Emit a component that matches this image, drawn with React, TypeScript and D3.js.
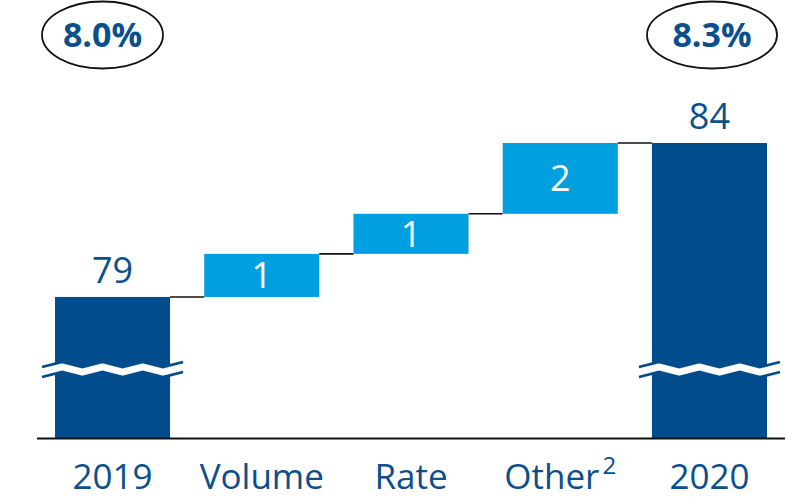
import React from "react";
import * as d3 from "d3";

const categories = ["2019", "Volume", "Rate", "Other", "2020"];
const kinds = ["total", "delta", "delta", "delta", "total"];
const values = [79, 1.4, 1.3, 2.3, 84];
const valueLabels = ["79", "1", "1", "2", "84"];
const superscripts = ["", "", "", "2", ""];
const marginLabels = ["8.0%", "", "", "", "8.3%"];

const W = 799;
const H = 499;
const DARK = "#004C8C";
const LIGHT = "#009FDF";
const TEXT = "#0B4F8C";
const FONT = "'Open Sans', 'Noto Sans', sans-serif";

export default function App() {
  const x = d3
    .scaleBand<string>()
    .domain(categories)
    .range([38, 784])
    .paddingInner(0.229)
    .paddingOuter(0.114);
  const y = d3.scaleLinear().domain([74.42, 84]).range([438, 143]);

  let running = 0;
  const segs = categories.map((c, i) => {
    if (kinds[i] === "total") {
      running = values[i];
      return { c, i, lo: y.domain()[0], hi: values[i], end: values[i] };
    }
    const lo = running;
    running += values[i];
    return { c, i, lo, hi: running, end: running };
  });

  const bw = x.bandwidth();

  const breakPath = (x0: number, x1: number, yc: number) => {
    const period = 38;
    const amp = 2.6;
    const pts: [number, number][] = [];
    const n = Math.round((x1 - x0) / (period / 2));
    for (let k = 0; k <= n; k++) {
      const px = x0 + ((x1 - x0) * k) / n;
      pts.push([px, yc + (k % 2 === 0 ? amp : -amp)]);
    }
    return pts;
  };

  return (
    <svg
      width={W}
      height={H}
      style={{ position: "absolute", left: 0, top: 0, background: "#fff" }}
      fontFamily={FONT}
    >
      {segs.slice(0, -1).map((s, i) => {
        const next = segs[i + 1];
        const level = s.end;
        return (
          <line
            key={"c" + i}
            x1={(x(s.c) as number) + bw}
            x2={x(next.c) as number}
            y1={y(level)}
            y2={y(level)}
            stroke="#111"
            strokeWidth={1.6}
          />
        );
      })}
      {segs.map((s) => (
        <rect
          key={"b" + s.c}
          x={x(s.c)}
          y={y(s.hi)}
          width={bw}
          height={y(s.lo) - y(s.hi)}
          fill={kinds[s.i] === "total" ? DARK : LIGHT}
        />
      ))}
      {segs
        .filter((s) => kinds[s.i] === "total")
        .map((s) => {
          const x0 = (x(s.c) as number) - 13;
          const x1 = (x(s.c) as number) + bw + 13;
          const yc = 369.5;
          const top = breakPath(x0, x1, yc - 5);
          const bot = breakPath(x0, x1, yc + 5);
          const line = d3.line();
          const poly = top.concat(bot.slice().reverse());
          return (
            <g key={"br" + s.c}>
              <path d={line(poly) + "Z"} fill="#fff" />
              <path d={line(top) as string} fill="none" stroke={DARK} strokeWidth={2.6} />
              <path d={line(bot) as string} fill="none" stroke={DARK} strokeWidth={2.6} />
            </g>
          );
        })}
      <line x1={37} x2={785} y1={438.5} y2={438.5} stroke="#111" strokeWidth={1.8} />
      {segs.map((s) => {
        const cx = (x(s.c) as number) + bw / 2;
        if (kinds[s.i] === "total") {
          return (
            <text
              key={"v" + s.c}
              x={cx}
              y={y(s.hi) - 14}
              textAnchor="middle"
              fontSize={36}
              fill={TEXT}
            >
              {valueLabels[s.i]}
            </text>
          );
        }
        return (
          <text
            key={"v" + s.c}
            x={cx}
            y={(y(s.hi) + y(s.lo)) / 2}
            dy="0.36em"
            textAnchor="middle"
            fontSize={36}
            fill="#fff"
          >
            {valueLabels[s.i]}
          </text>
        );
      })}
      {categories.map((c, i) => (
        <text
          key={"l" + c}
          x={(x(c) as number) + bw / 2}
          y={489}
          textAnchor="middle"
          fontSize={35}
          fill={TEXT}
        >
          {c}
          {superscripts[i] ? (
            <tspan fontSize={24} dx={3} dy={-15}>
              {superscripts[i]}
            </tspan>
          ) : null}
        </text>
      ))}
      {categories.map((c, i) => {
        if (!marginLabels[i]) return null;
        const cx = i === 0 ? 102.5 : 712;
        const rx = i === 0 ? 60.5 : 65;
        return (
          <g key={"m" + c}>
            <ellipse cx={cx} cy={35} rx={rx} ry={33.5} fill="none" stroke="#111" strokeWidth={1.8} />
            <text
              x={cx}
              y={35}
              dy="0.36em"
              textAnchor="middle"
              fontSize={34}
              fontWeight="bold"
              fill={TEXT}
            >
              {marginLabels[i]}
            </text>
          </g>
        );
      })}
    </svg>
  );
}
